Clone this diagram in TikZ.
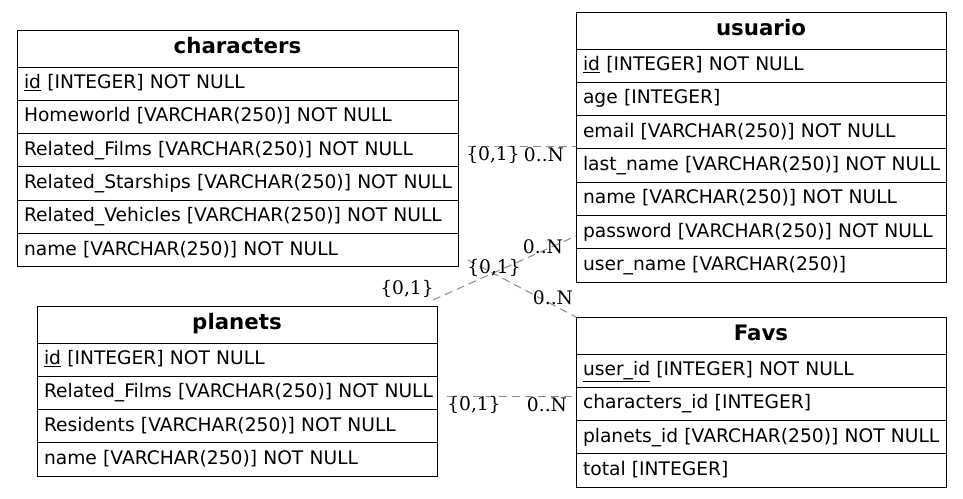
\documentclass[tikz,border=0pt]{standalone}
\usepackage{fontspec}
\setmainfont{DejaVu Sans}
\newfontfamily\cardfont{DejaVu Serif}
\newcommand{\fld}[1]{\hspace*{7pt}#1}
\begin{document}
\begin{tikzpicture}[x=1pt,y=-1pt,
  cell/.style={draw=black, line width=1pt, anchor=north west, inner xsep=0pt, inner ysep=0pt,
    outer sep=0pt, minimum height=33.3pt, text height=14pt, text depth=4pt, align=left,
    font=\fontsize{18.67}{22}\selectfont},
  head/.style={cell, minimum height=37pt, text height=15pt, text depth=4.5pt, align=center,
    font=\fontsize{21.33}{24}\selectfont\bfseries},
  rel/.style={draw=black!45, dash pattern=on 8pt off 5pt, line width=1pt},
  card/.style={font=\cardfont\fontsize{18.67}{22}\selectfont, inner sep=0pt}
]
\path[fill=white] (0,0) rectangle (963,498);
\useasboundingbox (0,0) rectangle (963,498);

% characters table
\node[head, text width=441pt] (ch0) at (17,30) {characters};
\node[cell, text width=441pt] (ch1) at (ch0.south west) {\fld{\underline{id} [INTEGER] NOT NULL}};
\node[cell, text width=441pt] (ch2) at (ch1.south west) {\fld{Homeworld [VARCHAR(250)] NOT NULL}};
\node[cell, text width=441pt] (ch3) at (ch2.south west) {\fld{Related\_Films [VARCHAR(250)] NOT NULL}};
\node[cell, text width=441pt] (ch4) at (ch3.south west) {\fld{Related\_Starships [VARCHAR(250)] NOT NULL}};
\node[cell, text width=441pt] (ch5) at (ch4.south west) {\fld{Related\_Vehicles [VARCHAR(250)] NOT NULL}};
\node[cell, text width=441pt] (ch6) at (ch5.south west) {\fld{name [VARCHAR(250)] NOT NULL}};

% usuario table
\node[head, text width=370pt] (us0) at (576,12) {usuario};
\node[cell, text width=370pt] (us1) at (us0.south west) {\fld{\underline{id} [INTEGER] NOT NULL}};
\node[cell, text width=370pt] (us2) at (us1.south west) {\fld{age [INTEGER]}};
\node[cell, text width=370pt] (us3) at (us2.south west) {\fld{email [VARCHAR(250)] NOT NULL}};
\node[cell, text width=370pt] (us4) at (us3.south west) {\fld{last\_name [VARCHAR(250)] NOT NULL}};
\node[cell, text width=370pt] (us5) at (us4.south west) {\fld{name [VARCHAR(250)] NOT NULL}};
\node[cell, text width=370pt] (us6) at (us5.south west) {\fld{password [VARCHAR(250)] NOT NULL}};
\node[cell, text width=370pt] (us7) at (us6.south west) {\fld{user\_name [VARCHAR(250)]}};

% planets table
\node[head, text width=400pt] (pl0) at (37,306) {planets};
\node[cell, text width=400pt] (pl1) at (pl0.south west) {\fld{\underline{id} [INTEGER] NOT NULL}};
\node[cell, text width=400pt] (pl2) at (pl1.south west) {\fld{Related\_Films [VARCHAR(250)] NOT NULL}};
\node[cell, text width=400pt] (pl3) at (pl2.south west) {\fld{Residents [VARCHAR(250)] NOT NULL}};
\node[cell, text width=400pt] (pl4) at (pl3.south west) {\fld{name [VARCHAR(250)] NOT NULL}};

% Favs table
\node[head, text width=370pt] (fv0) at (576,317) {Favs};
\node[cell, text width=370pt] (fv1) at (fv0.south west) {\fld{\underline{user\_id} [INTEGER] NOT NULL}};
\node[cell, text width=370pt] (fv2) at (fv1.south west) {\fld{characters\_id [INTEGER]}};
\node[cell, text width=370pt] (fv3) at (fv2.south west) {\fld{planets\_id [VARCHAR(250)] NOT NULL}};
\node[cell, text width=370pt] (fv4) at (fv3.south west) {\fld{total [INTEGER]}};

% relationship end points
\coordinate (chA) at (468,146);
\coordinate (usA) at (us3.west |- chA);
\coordinate (plA) at (433,300);
\coordinate (usB) at (576,236);
\coordinate (chB) at (468,260);
\coordinate (fvA) at (fv0.north west);
\coordinate (plB) at (447,396);
\coordinate (fvB) at (fv2.west |- plB);

% relationships
\draw[rel] (chA) -- (usA);
\draw[rel] (plA) -- (usB);
\draw[rel] (chB) -- (fvA);
\draw[rel] (plB) -- (fvB);

% cardinalities
\node[card] (k1a) at (493,155) {\{0,1\}};
\node[card] (k1b) at (544,155) {0..N};
\node[card] (k2a) at (407,289) {\{0,1\}};
\node[card] (k2b) at (543,247) {0..N};
\node[card] (k3a) at (494,268) {\{0,1\}};
\node[card] (k3b) at (553,298) {0..N};
\node[card] (k4a) at (474,405) {\{0,1\}};
\node[card] (k4b) at (547,405) {0..N};
\end{tikzpicture}
\end{document}
